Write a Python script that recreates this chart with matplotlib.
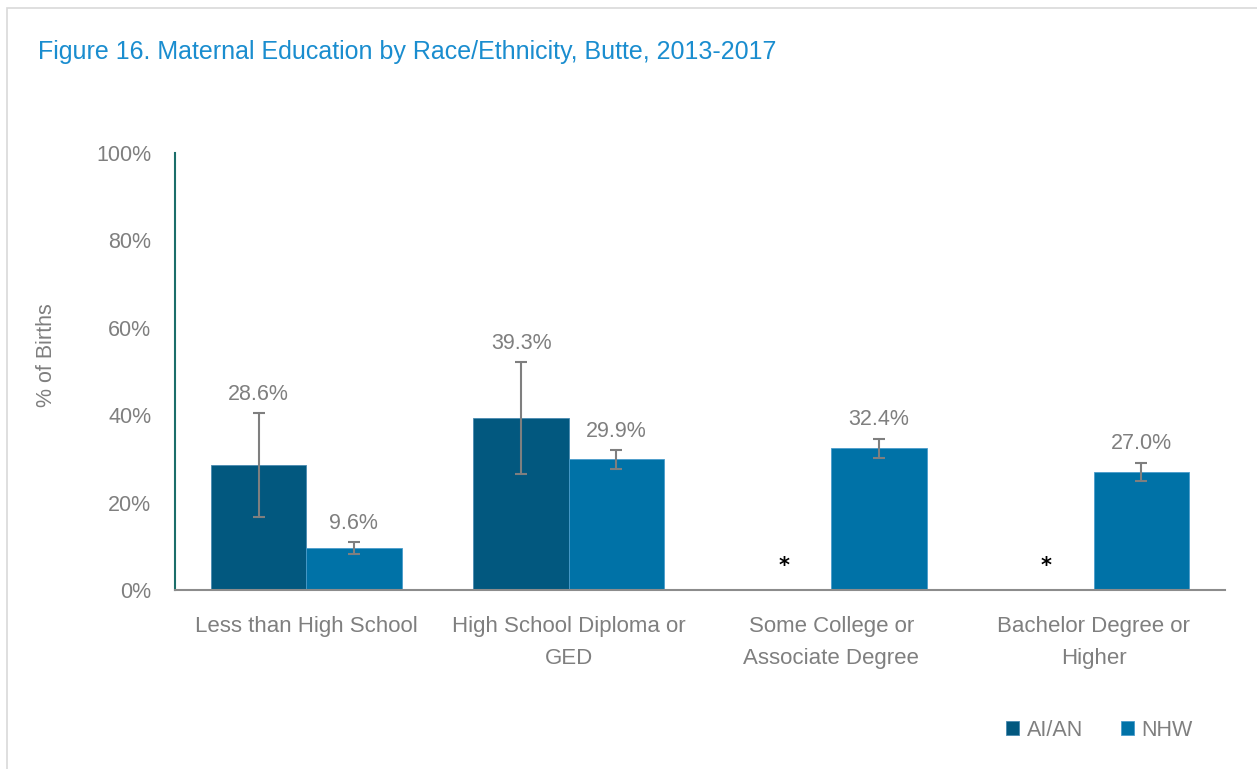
import numpy as np
import matplotlib
matplotlib.use("Agg")
import matplotlib.pyplot as plt
from matplotlib.patches import Rectangle

categories = ["Less than High School", "High School Diploma or\nGED",
              "Some College or\nAssociate Degree", "Bachelor Degree or\nHigher"]
aian = [28.6, 39.3, np.nan, np.nan]
aian_lo = [16.7, 26.5, np.nan, np.nan]
aian_hi = [40.5, 52.2, np.nan, np.nan]
nhw = [9.6, 29.9, 32.4, 27.0]
nhw_lo = [8.2, 27.7, 30.2, 24.9]
nhw_hi = [11.0, 32.0, 34.6, 29.1]
suppressed = [False, False, True, True]

C_AIAN = "#02587f"
C_NHW = "#0072a7"
GRAY = "#7f7f7f"
plt.rcParams["font.family"] = ["Liberation Sans", "DejaVu Sans"]

fig = plt.figure(figsize=(12.57, 7.69), dpi=100)
# light frame around the chart area
fig.patches.append(Rectangle((7 / 1257, -0.1), 1.2, (769 - 8) / 769 + 0.1,
                             transform=fig.transFigure, fill=False,
                             edgecolor="#d9d9d9", linewidth=1.2))
ax = fig.add_axes([175 / 1257, 1 - 590 / 769, 1050 / 1257, 437 / 769])

x = np.arange(len(categories))
w = 0.363
ax.bar(x - w / 2, aian, w, color=C_AIAN, edgecolor="#4a8ab0", linewidth=0.6, label="AI/AN")
ax.bar(x + w / 2, nhw, w, color=C_NHW, edgecolor="#4a9ccb", linewidth=0.6, label="NHW")

for xs, vals, lo, hi in [(x - w / 2, aian, aian_lo, aian_hi), (x + w / 2, nhw, nhw_lo, nhw_hi)]:
    vals = np.array(vals); lo = np.array(lo); hi = np.array(hi)
    ax.errorbar(xs, vals, yerr=[vals - lo, hi - vals], fmt="none", ecolor=GRAY,
                elinewidth=1.5, capsize=4.5, capthick=1.5)
    for xi, v, h in zip(xs, vals, hi):
        if not np.isnan(v):
            ax.annotate(f"{v:.1f}%", (xi, h), xytext=(0, 6), textcoords="offset points",
                        ha="center", va="bottom", fontsize=15.5, color=GRAY)

for xi, s in zip(x, suppressed):
    if s:
        ax.text(xi - w / 2, 5.5, "*", ha="center", va="center", fontsize=15,
                fontweight="bold", color="black", family="DejaVu Sans")

ax.set_xlim(-0.5, 3.5)
ax.set_ylim(0, 100)
ax.set_yticks(np.arange(0, 101, 20))
ax.set_yticklabels([f"{t}%" for t in range(0, 101, 20)])
ax.set_xticks(x)
ax.set_xticklabels(categories, linespacing=1.65)
ax.tick_params(axis="both", length=0, labelcolor=GRAY)
ax.tick_params(axis="x", pad=19, labelsize=16)
ax.tick_params(axis="y", pad=17, labelsize=15.5)
ax.set_ylabel("% of Births", fontsize=15.5, color=GRAY)
ax.yaxis.set_label_coords((57 - 175) / 1050, (590 - 355) / 437)

for side in ["top", "right"]:
    ax.spines[side].set_visible(False)
ax.spines["left"].set_color("#1b6e6a")
ax.spines["left"].set_linewidth(1.5)
ax.spines["bottom"].set_color("#8c8c8c")
ax.spines["bottom"].set_linewidth(1.5)

fig.text(38 / 1257, 1 - 52 / 769, "Figure 16. Maternal Education by Race/Ethnicity, Butte, 2013-2017",
         fontsize=18.0, color="#1a8dcf", va="center", ha="left")

ax.legend(loc="center left", bbox_to_anchor=(987 / 1257, 1 - 730 / 769),
          bbox_transform=fig.transFigure, ncol=2, frameon=False, fontsize=15.5,
          labelcolor=GRAY, handlelength=0.6, handleheight=0.6, handletextpad=0.35,
          columnspacing=1.75)

fig.savefig("out.png", dpi=100)
